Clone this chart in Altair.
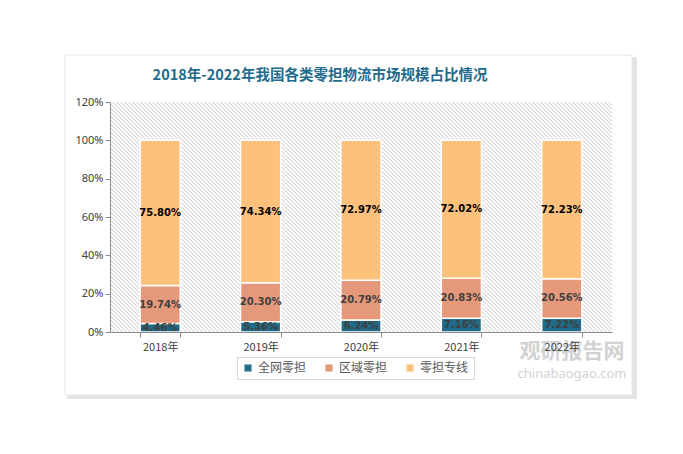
import altair as alt
import pandas as pd

years = ["2018年", "2019年", "2020年", "2021年", "2022年"]
series = ["全网零担", "区域零担", "零担专线"]
whole_net = [4.46, 5.36, 6.24, 7.16, 7.22]
regional = [19.74, 20.30, 20.79, 20.83, 20.56]
dedicated = [75.80, 74.34, 72.97, 72.02, 72.23]
colors = ["#1E6B8A", "#E6997A", "#FDC17B"]
title_text = "2018年-2022年我国各类零担物流市场规模占比情况"
y_ticks = [0, 0.2, 0.4, 0.6, 0.8, 1.0, 1.2]

rows = []
for i, y in enumerate(years):
    for k, (s, vals) in enumerate(zip(series, [whole_net, regional, dedicated])):
        rows.append({"year": y, "series": s, "value": vals[i] / 100, "order": k,
                     "label": f"{vals[i]:.2f}%", "tc": "#000000" if k == 2 else "#404040"})
df = pd.DataFrame(rows)

W, H = 502, 230

# hatch pattern as a striped linear gradient
n = 183
stops = []
for i in range(n):
    t0 = i / n
    t1 = (i + 0.3) / n
    t2 = (i + 1) / n
    stops += [{"offset": t0, "color": "#E2E2E2"}, {"offset": t1, "color": "#E2E2E2"},
              {"offset": min(t1 + 0.0001, 1), "color": "#FFFFFF"}, {"offset": min(t2 - 0.0001, 1), "color": "#FFFFFF"}]
hatch = {"gradient": "linear", "x1": 0, "y1": 1, "x2": 1.205, "y2": 0.448, "stops": stops}

base = alt.Chart(df)
one = "datum.order==0 && datum.year=='2018年'"

shadow = base.mark_rect(fill="#E4E4E4").encode(
    x=alt.value(-43), x2=alt.value(527), y=alt.value(-45), y2=alt.value(297)).transform_filter(one)
card = base.mark_rect(fill="white", stroke="#E6E6E6", strokeWidth=1).encode(
    x=alt.value(-45), x2=alt.value(522), y=alt.value(-47), y2=alt.value(293)).transform_filter(one)
bg = base.mark_rect(color=hatch).encode(
    x=alt.value(0), x2=alt.value("width"), y=alt.value(0), y2=alt.value("height")).transform_filter(one)

stacked = base.transform_stack(
    stack="value", groupby=["year"], as_=["v0", "v1"], sort=[alt.SortField("order", "ascending")]
).transform_calculate(mid="(datum.v0 + datum.v1) / 2")

x_axis = alt.Axis(labelAngle=0, tickBand="extent", domainColor="#8C8C8C", tickColor="#8C8C8C",
                  tickSize=5, labelFontSize=11, labelColor="#404040", labelPadding=4,
                  labelFont="Noto Sans CJK SC", zindex=1)
y_axis = alt.Axis(format=".0%", values=y_ticks, grid=False,
                  labelOverlap=False, domainColor="#8C8C8C", tickColor="#8C8C8C", tickSize=5,
                  labelFontSize=11, labelColor="#404040", labelFont="Noto Sans", zindex=1)
x_scale = alt.Scale(paddingInner=0.6, paddingOuter=0.3)
y_scale = alt.Scale(domain=[0, 1.2])

bars = stacked.mark_bar(stroke="white", strokeWidth=1.5).encode(
    x=alt.X("year:N", sort=years, title=None, scale=x_scale, axis=x_axis),
    y=alt.Y("v0:Q", title=None, scale=y_scale, axis=y_axis),
    y2="v1:Q",
    color=alt.Color("series:N", scale=alt.Scale(domain=series, range=colors),
                    legend=alt.Legend(title=None, orient="none", legendX=127, legendY=255,
                                      direction="horizontal", symbolType="square", symbolSize=50,
                                      symbolStrokeWidth=0, labelFontSize=12, labelColor="#595959",
                                      labelFont="Noto Sans CJK SC", columnPadding=16, padding=5,
                                      strokeColor="#D9D9D9")),
    order=alt.Order("order:Q"),
)

labels = stacked.mark_text(fontWeight="bold", fontSize=10, font="DejaVu Sans", baseline="middle").encode(
    x=alt.X("year:N", sort=years, title=None, scale=x_scale, axis=x_axis),
    y=alt.Y("mid:Q", title=None, scale=y_scale, axis=y_axis),
    text="label:N",
    color=alt.Color("tc:N", scale=None),
)

title_mark = base.mark_text(text=title_text, fontSize=14.5, fontWeight="bold", font="Noto Sans CJK SC",
                            color="#1F6B8C", align="center", baseline="middle").encode(
    x=alt.value(210), y=alt.value(-26)).transform_filter(one)

wm = base.mark_text(text="观研报告网", fontSize=21, fontWeight="bold", font="Noto Sans CJK SC",
                    color="#D2D2D2", align="center", baseline="middle").encode(
    x=alt.value(462), y=alt.value(250)).transform_filter(one)
wm2 = base.mark_text(text="chinabaogao.com", fontSize=13, font="Noto Sans",
                     color="#D2D2D2", align="center", baseline="middle").encode(
    x=alt.value(462), y=alt.value(272)).transform_filter(one)

chart = alt.layer(shadow, card, bg, wm, wm2, bars, labels, title_mark).properties(
    width=W, height=H,
    autosize=alt.AutoSizeParams(type="none"),
    padding={"left": 102, "top": 94, "right": 63, "bottom": 100},
).configure_view(stroke=None)

chart.save("out.html", embed_options={"renderer": "svg", "actions": False})
